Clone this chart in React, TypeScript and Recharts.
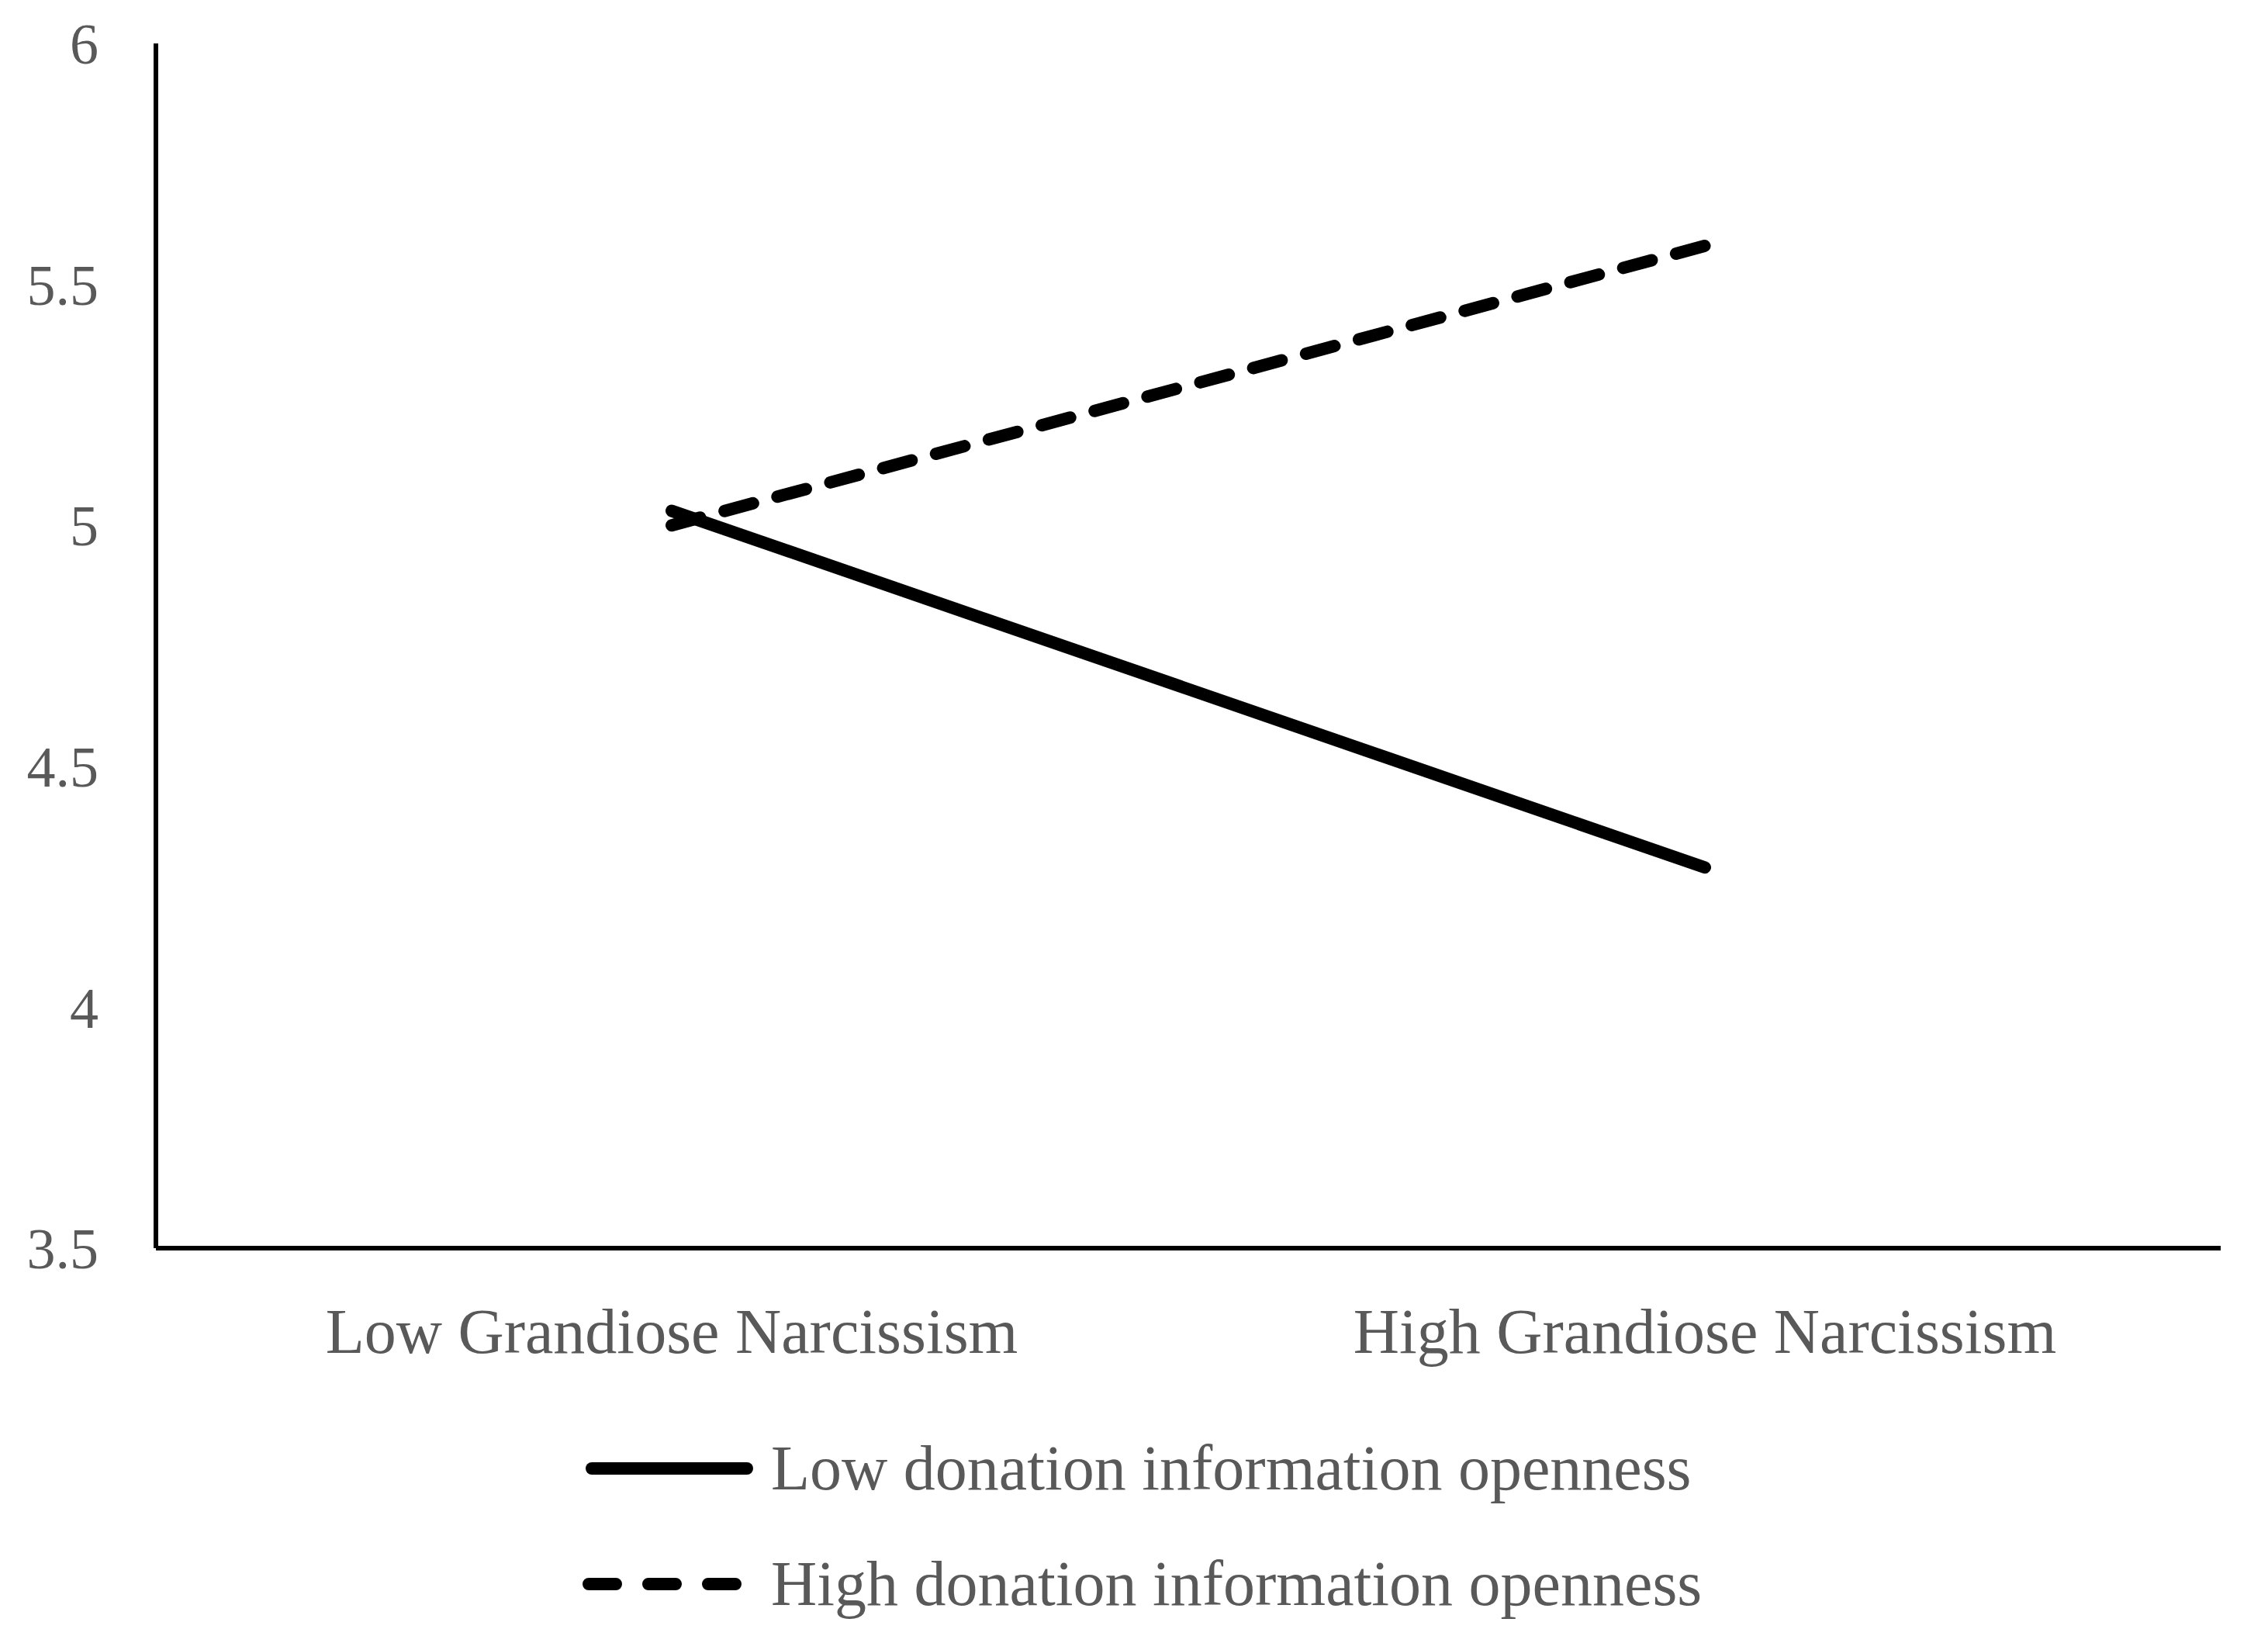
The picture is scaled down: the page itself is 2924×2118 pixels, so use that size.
import React from "react";
import { LineChart, Line, XAxis, YAxis, Legend } from "recharts";

const categories = ["Low Grandiose Narcissism", "High Grandiose Narcissism"];
const lowOpenness = [5.03, 4.29];
const highOpenness = [5.0, 5.58];
const yTicks = [3.5, 4, 4.5, 5, 5.5, 6];
const seriesNames = ["Low donation information openness", "High donation information openness"];

const data = categories.map((c, i) => ({
  category: c,
  low: lowOpenness[i],
  high: highOpenness[i],
}));

const FONT = "'Liberation Serif', 'Times New Roman', serif";
const TEXT = "#595959";

const LegendContent = () => (
  <div style={{ fontFamily: FONT, fontSize: 82, color: TEXT }}>
    {seriesNames.map((name, i) => (
      <div key={name} style={{ display: "flex", alignItems: "center", height: 149 }}>
        <svg width={243} height={40} style={{ display: "block" }}>
          {i === 0 ? (
            <line x1={12} y1={20} x2={212} y2={20} stroke="#000" strokeWidth={16} strokeLinecap="round" />
          ) : (
            <line x1={8} y1={20} x2={199} y2={20} stroke="#000" strokeWidth={16} strokeLinecap="round" strokeDasharray="35 42" />
          )}
        </svg>
        <span style={{ whiteSpace: "nowrap", lineHeight: "149px" }}>{name}</span>
      </div>
    ))}
  </div>
);

export default function App() {
  return (
    <div style={{ position: "absolute", left: 0, top: 0, width: 2924, height: 2118, background: "#fff" }}>
      <LineChart
        width={2924}
        height={2118}
        data={data}
        margin={{ top: 56, right: 61, bottom: 479, left: 61 }}
      >
        <XAxis
          dataKey="category"
          padding={{ left: 665, right: 665 }}
          axisLine={{ stroke: "#000", strokeWidth: 6 }}
          tickLine={false}
          tickSize={0}
          tickMargin={77}
          interval={0}
          tick={{ fill: TEXT, fontSize: 82, fontFamily: FONT }}
        />
        <YAxis
          width={140}
          domain={[3.5, 6]}
          ticks={yTicks}
          axisLine={{ stroke: "#000", strokeWidth: 6 }}
          tickLine={false}
          tickSize={0}
          tickMargin={74}
          tick={{ fill: TEXT, fontSize: 74, fontFamily: FONT }}
          allowDataOverflow
        />
        <Legend
          layout="vertical"
          align="center"
          verticalAlign="middle"
          content={<LegendContent />}
          wrapperStyle={{ position: "absolute", left: 751, top: 1818, width: 1500 }}
        />
        <Line
          dataKey="high"
          name={seriesNames[1]}
          type="linear"
          stroke="#000"
          strokeWidth={16}
          strokeLinecap="round"
          strokeDasharray="38 32.6"
          dot={false}
          activeDot={false}
          isAnimationActive={false}
        />
        <Line
          dataKey="low"
          name={seriesNames[0]}
          type="linear"
          stroke="#000"
          strokeWidth={16}
          strokeLinecap="round"
          dot={false}
          activeDot={false}
          isAnimationActive={false}
        />
      </LineChart>
    </div>
  );
}
